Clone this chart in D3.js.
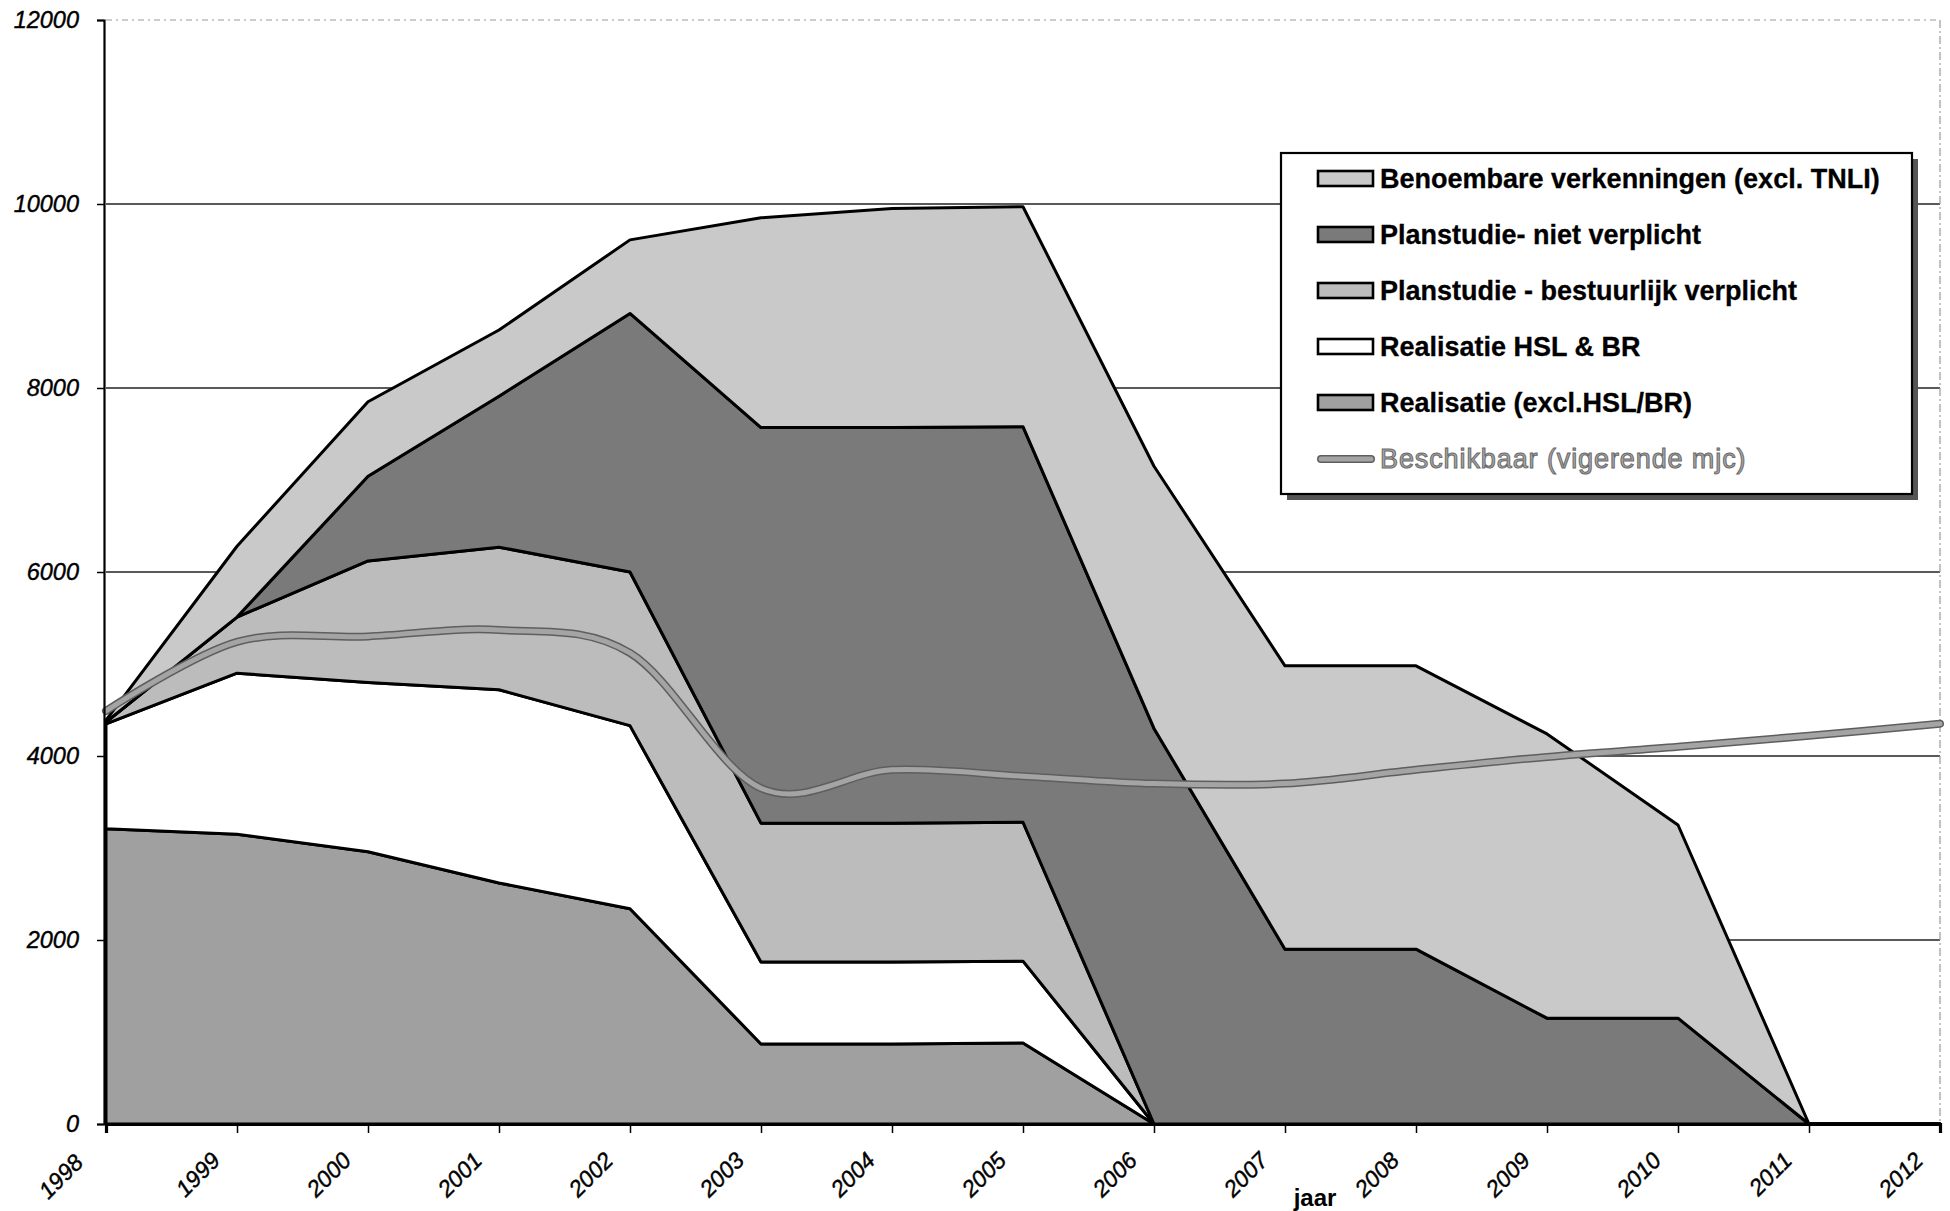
<!DOCTYPE html>
<html>
<head>
<meta charset="utf-8">
<script src="https://cdn.jsdelivr.net/npm/d3@7"></script>
<style>
  body { margin: 0; background: #fff; }
  svg { display: block; }
</style>
</head>
<body>
<svg id="chart" width="1950" height="1211"></svg>
<script>
// Years on the horizontal axis
const years = [1998, 1999, 2000, 2001, 2002, 2003, 2004, 2005, 2006, 2007, 2008, 2009, 2010, 2011, 2012];

// Stacked series, bottom to top
const realisatieExcl     = [3210, 3150, 2960, 2620, 2340,  870,  870,  880,    0,    0,    0,    0,    0, 0, 0];
const realisatieHslBr    = [1140, 1750, 1840, 2100, 1990,  890,  890,  890,    0,    0,    0,    0,    0, 0, 0];
const planstudieVerplicht= [  20,  610, 1320, 1550, 1670, 1510, 1510, 1510,    0,    0,    0,    0,    0, 0, 0];
const planstudieNiet     = [   0,    0,  920, 1640, 2810, 4300, 4300, 4300, 4300, 1900, 1900, 1150, 1150, 0, 0];
const benoembare         = [  20,  770,  810,  720,  800, 2280, 2380, 2390, 2850, 3080, 3080, 3090, 2100, 0, 0];

// Available budget line
const beschikbaar = [4490, 5240, 5300, 5370, 5120, 3650, 3850, 3780, 3700, 3700, 3850, 3990, 4100, 4220, 4350];

const yTicks = [0, 2000, 4000, 6000, 8000, 10000, 12000];

const seriesKeys  = ["realisatieExcl", "realisatieHslBr", "planstudieVerplicht", "planstudieNiet", "benoembare"];
const seriesNames = {
  realisatieExcl: "Realisatie (excl.HSL/BR)",
  realisatieHslBr: "Realisatie HSL & BR",
  planstudieVerplicht: "Planstudie - bestuurlijk verplicht",
  planstudieNiet: "Planstudie- niet verplicht",
  benoembare: "Benoembare verkenningen (excl. TNLI)"
};
const lineName = "Beschikbaar (vigerende mjc)";
const seriesFill = {
  realisatieExcl: "#a0a0a0",
  realisatieHslBr: "#ffffff",
  planstudieVerplicht: "#bcbcbc",
  planstudieNiet: "#7a7a7a",
  benoembare: "#c9c9c9"
};
const legendOrder = ["benoembare", "planstudieNiet", "planstudieVerplicht", "realisatieHslBr", "realisatieExcl"];

// Build rows for the stack layout
const rows = years.map((yr, i) => ({
  year: yr,
  realisatieExcl: realisatieExcl[i],
  realisatieHslBr: realisatieHslBr[i],
  planstudieVerplicht: planstudieVerplicht[i],
  planstudieNiet: planstudieNiet[i],
  benoembare: benoembare[i]
}));

const svg = d3.select("#chart");
const x = d3.scaleLinear().domain([1998, 2012]).range([106, 1940]);
const y = d3.scaleLinear().domain([0, 12000]).range([1124, 20]);
const font = "Liberation Sans, Arial, sans-serif";

// Grid lines (behind the areas)
svg.append("g")
  .selectAll("line")
  .data(yTicks.filter(v => v > 0 && v < 12000))
  .join("line")
  .attr("x1", x(1998)).attr("x2", x(2012))
  .attr("y1", d => y(d)).attr("y2", d => y(d))
  .attr("stroke", "#222").attr("stroke-width", 1.3);

// Plot frame: faint dotted top and right edge
svg.append("line")
  .attr("x1", x(1998)).attr("x2", x(2012))
  .attr("y1", y(12000)).attr("y2", y(12000))
  .attr("stroke", "#9a9a9a").attr("stroke-width", 1.2).attr("stroke-dasharray", "6 4 2 4");
svg.append("line")
  .attr("x1", x(2012)).attr("x2", x(2012))
  .attr("y1", y(12000)).attr("y2", y(0))
  .attr("stroke", "#9a9a9a").attr("stroke-width", 1.2).attr("stroke-dasharray", "8 3 2 3");

// Stacked areas
const stacked = d3.stack().keys(seriesKeys)(rows);
const area = d3.area()
  .x(d => x(d.data.year))
  .y0(d => y(d[0]))
  .y1(d => y(d[1]));

svg.append("g")
  .selectAll("path")
  .data(stacked)
  .join("path")
  .attr("d", area)
  .attr("fill", d => seriesFill[d.key])
  .attr("stroke", "#000")
  .attr("stroke-width", 3)
  .attr("stroke-linejoin", "round");

// Smoothed available-budget line
const line = d3.line()
  .x((d, i) => x(years[i]))
  .y(d => y(d))
  .curve(d3.curveCardinal.tension(0));
svg.append("path").datum(beschikbaar)
  .attr("d", line).attr("fill", "none")
  .attr("stroke", "#5e5e5e").attr("stroke-width", 8).attr("stroke-linecap", "round");
svg.append("path").datum(beschikbaar)
  .attr("d", line).attr("fill", "none")
  .attr("stroke", "#a4a4a4").attr("stroke-width", 5).attr("stroke-linecap", "round");

// Y axis
const yAxis = svg.append("g")
  .attr("transform", `translate(${x(1998) - 2},0)`)
  .call(d3.axisLeft(y).tickValues(yTicks).tickSize(7).tickPadding(18).tickFormat(d3.format("d")));
yAxis.select(".domain").attr("stroke", "#000").attr("stroke-width", 2.2);
yAxis.selectAll(".tick line").attr("stroke", "#000").attr("stroke-width", 1.5);
yAxis.selectAll("text")
  .attr("font-family", font)
  .attr("font-size", 23.5).attr("font-style", "italic").attr("fill", "#000")
  .attr("stroke", "#000").attr("stroke-width", 0.4);

// X axis
const xAxis = svg.append("g")
  .attr("transform", `translate(0,${y(0)})`)
  .call(d3.axisBottom(x).tickValues(years).tickSize(9).tickFormat(d3.format("d")));
xAxis.select(".domain").attr("stroke", "#000").attr("stroke-width", 3.2);
xAxis.selectAll(".tick line").attr("stroke", "#000").attr("stroke-width", 1.5);
xAxis.selectAll("text")
  .attr("x", 0).attr("y", 0).attr("dy", 0)
  .attr("text-anchor", "end")
  .attr("transform", d => d === 1998 ? "translate(-22,40) rotate(-45)" : "translate(-16,38) rotate(-45)")
  .attr("font-family", font)
  .attr("font-size", 23).attr("font-style", "italic").attr("fill", "#000")
  .attr("stroke", "#000").attr("stroke-width", 0.4);

// Axis title
svg.append("text")
  .attr("x", 1315).attr("y", 1206)
  .attr("text-anchor", "middle")
  .attr("font-family", font)
  .attr("font-size", 24).attr("font-weight", "bold")
  .text("jaar");

// Legend
const lg = svg.append("g").attr("transform", "translate(1281,153)");
const lgW = 631, lgH = 341;
lg.append("rect").attr("x", 6).attr("y", 6).attr("width", lgW).attr("height", lgH).attr("fill", "#555");
lg.append("rect").attr("width", lgW).attr("height", lgH)
  .attr("fill", "#fff").attr("stroke", "#000").attr("stroke-width", 2.2);

const rowY = i => 35 + i * 56;
legendOrder.forEach((k, i) => {
  const g = lg.append("g").attr("transform", `translate(0,${rowY(i)})`);
  g.append("rect").attr("x", 37).attr("y", -17).attr("width", 55).attr("height", 15)
    .attr("fill", seriesFill[k]).attr("stroke", "#000").attr("stroke-width", 2.6);
  g.append("text").attr("x", 99).attr("y", 0)
    .attr("font-family", font)
    .attr("font-size", 27).attr("font-weight", "bold").attr("fill", "#000")
    .attr("stroke", "#000").attr("stroke-width", 0.3)
    .text(seriesNames[k]);
});
{
  const g = lg.append("g").attr("transform", `translate(0,${rowY(5)})`);
  g.append("line").attr("x1", 40).attr("x2", 90).attr("y1", -9).attr("y2", -9)
    .attr("stroke", "#5e5e5e").attr("stroke-width", 8).attr("stroke-linecap", "round");
  g.append("line").attr("x1", 40).attr("x2", 90).attr("y1", -9).attr("y2", -9)
    .attr("stroke", "#a4a4a4").attr("stroke-width", 5).attr("stroke-linecap", "round");
  g.append("text").attr("x", 99).attr("y", 0)
    .attr("font-family", font)
    .attr("font-size", 27).attr("letter-spacing", 0.9).attr("fill", "#a8a8a8")
    .attr("stroke", "#6a6a6a").attr("stroke-width", 1)
    .text(lineName);
}
</script>
</body>
</html>
